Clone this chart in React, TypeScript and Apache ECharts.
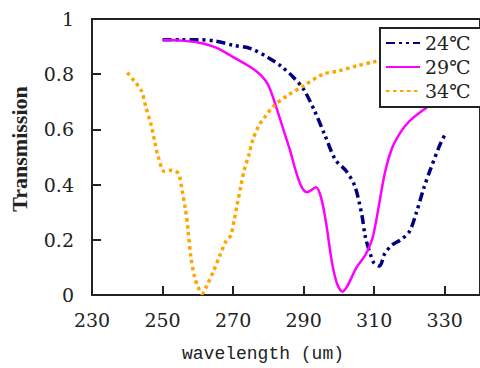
import React, { useEffect, useRef } from "react";
import * as echarts from "echarts";

const seriesNames = ["24℃", "29℃", "34℃"];

const wl24 = [250, 255, 260, 265, 270, 275, 280, 283.5, 287, 290, 293, 296, 299, 302, 304.5, 306.5, 307.5, 309, 310, 311.5, 313, 315, 317.5, 320, 322, 324, 326, 328.5, 330];
const t24 = [0.925, 0.925, 0.925, 0.92, 0.905, 0.893, 0.86, 0.83, 0.79, 0.745, 0.67, 0.58, 0.49, 0.45, 0.395, 0.29, 0.21, 0.145, 0.115, 0.105, 0.15, 0.18, 0.2, 0.23, 0.3, 0.385, 0.457, 0.54, 0.58];

const wl29 = [250, 255, 260, 265, 270, 275, 278, 280, 282, 284, 286, 288, 289.5, 291, 293.5, 295, 296.5, 298, 299.5, 301, 302.5, 305, 307.5, 309.5, 311, 313, 315, 317.5, 320, 325, 330];
const t29 = [0.925, 0.922, 0.915, 0.897, 0.862, 0.825, 0.795, 0.76, 0.69, 0.61, 0.53, 0.44, 0.39, 0.372, 0.39, 0.35, 0.25, 0.12, 0.04, 0.012, 0.035, 0.1, 0.145, 0.205, 0.3, 0.44, 0.53, 0.59, 0.63, 0.68, 0.72];

const wl34 = [240, 242, 244, 245.3, 246.8, 247.8, 248.8, 250.5, 252.5, 254.5, 255.6, 256.5, 257.2, 258, 259, 260, 261.2, 262.6, 264.4, 266.3, 268, 269.3, 270.3, 271.2, 272.2, 273.2, 274.4, 275.6, 277.4, 279, 281.6, 285.3, 290, 295.5, 300, 305, 310, 315];
const t34 = [0.806, 0.775, 0.74, 0.68, 0.614, 0.555, 0.5, 0.448, 0.452, 0.44, 0.375, 0.31, 0.24, 0.14, 0.07, 0.03, 0.005, 0.035, 0.085, 0.145, 0.195, 0.215, 0.27, 0.33, 0.395, 0.455, 0.505, 0.563, 0.616, 0.645, 0.686, 0.722, 0.758, 0.8, 0.812, 0.83, 0.845, 0.86];

const pairs = (xs: number[], ys: number[]) => xs.map((x, i) => [x, ys[i]]);

export default function App() {
  const ref = useRef<HTMLDivElement>(null);
  useEffect(() => {
    if (!ref.current) return;
    const chart = echarts.init(ref.current, null, { renderer: "svg" });
    const serif = "DejaVu Serif";
    chart.setOption({
      animation: false,
      backgroundColor: "#ffffff",
      grid: {
        left: 91,
        top: 19,
        width: 432,
        height: 278,
        show: true,
        borderColor: "#222",
        borderWidth: 2,
        backgroundColor: "transparent",
      },
      legend: {
        orient: "vertical",
        left: 380,
        top: 28,
        padding: [3, 14, 4, 5],
        itemGap: 0,
        itemWidth: 34,
        itemHeight: 14,
        backgroundColor: "#ffffff",
        borderColor: "#222",
        borderWidth: 2,
        borderRadius: 0,
        itemStyle: { opacity: 0 },
        textStyle: { fontFamily: serif, fontSize: 19, color: "#222", lineHeight: 24 },
        data: seriesNames,
      },
      xAxis: {
        type: "value",
        min: 230,
        max: 340,
        interval: 20,
        name: "wavelength (um)",
        nameLocation: "middle",
        nameGap: 50,
        nameTextStyle: {
          fontFamily: "Liberation Mono",
          fontSize: 18,
          color: "#222",
          padding: [0, 46, 0, 0],
        },
        axisLine: { show: true, lineStyle: { color: "#222", width: 2 } },
        axisTick: { show: true, inside: true, length: 9, lineStyle: { color: "#222", width: 2 } },
        axisLabel: { fontFamily: serif, fontSize: 19, color: "#222", margin: 15, showMaxLabel: false },
        splitLine: { show: false },
      },
      yAxis: {
        type: "value",
        min: 0,
        max: 1,
        interval: 0.2,
        name: "Transmission",
        nameLocation: "middle",
        nameRotate: 90,
        nameGap: 62,
        nameTextStyle: {
          fontFamily: "Liberation Serif",
          fontSize: 22,
          fontWeight: "bold",
          color: "#222",
          padding: [0, 0, 0, 16],
        },
        axisLine: { show: true, lineStyle: { color: "#222", width: 2 } },
        axisTick: { show: true, inside: true, length: 9, lineStyle: { color: "#222", width: 2 } },
        axisLabel: { fontFamily: serif, fontSize: 19, color: "#222", margin: 18 },
        splitLine: { show: false },
      },
      series: [
        {
          name: seriesNames[0],
          type: "line",
          data: pairs(wl24, t24),
          showSymbol: false,
          symbol: "none",
          smooth: 0.3,
          lineStyle: { color: "#000080", width: 3.5, type: [9, 4, 3, 4, 3, 4] },
          itemStyle: { color: "#000080" },
        },
        {
          name: seriesNames[1],
          type: "line",
          data: pairs(wl29, t29),
          showSymbol: false,
          symbol: "none",
          smooth: 0.3,
          lineStyle: { color: "#FF00FF", width: 2.5, type: "solid" },
          itemStyle: { color: "#FF00FF" },
        },
        {
          name: seriesNames[2],
          type: "line",
          data: pairs(wl34, t34),
          showSymbol: false,
          symbol: "none",
          smooth: 0.3,
          lineStyle: { color: "#FFA500", width: 3.5, type: [3.5, 3.5] },
          itemStyle: { color: "#FFA500" },
        },
      ],
    });
    return () => chart.dispose();
  }, []);
  return (
    <div
      ref={ref}
      style={{ position: "fixed", left: 0, top: 0, width: 480, height: 368 }}
    />
  );
}
